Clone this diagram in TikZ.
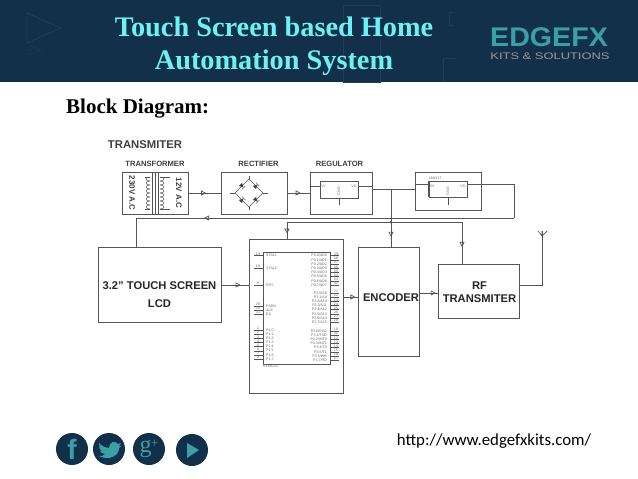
\documentclass[tikz,border=0pt]{standalone}
\usepackage{fontspec}
\setmainfont{Liberation Serif}
\setsansfont{Liberation Sans}
\newfontfamily\urlfont{Carlito}
\definecolor{mynavy}{HTML}{12304A}
\definecolor{mynavylight}{HTML}{1E3D57}
\definecolor{mycyan}{HTML}{6CF2F4}
\definecolor{myteal}{HTML}{3A9FA6}
\definecolor{mywire}{HTML}{555555}
\usetikzlibrary{positioning, arrows.meta, decorations.markings, calc}
\tikzset{
	blocknode/.style={
			draw=mywire,
			thick,
			fill=white,
			inner sep=0pt,
			align=center,
			font=\sffamily\bfseries\fontsize{11.2}{12.5}\selectfont,
			text=black!85
		},
	labelnode/.style={
			inner sep=0pt,
			font=\sffamily\bfseries\fontsize{7.6}{8}\selectfont,
			text=black!75
		},
	boxtextnode/.style={
			inner sep=0pt,
			align=center,
			font=\sffamily\bfseries\fontsize{11.2}{18}\selectfont,
			text=black!85
		},
	pinnode/.style={
			inner sep=0pt,
			text=black!60,
			font=\sffamily\fontsize{3.6}{4}\selectfont
		},
	titlenode/.style={
			inner sep=0pt,
			text=mycyan,
			font=\rmfamily\bfseries\fontsize{28.3}{33}\selectfont,
			align=center
		},
	socialnode/.style={
			circle,
			fill=mynavy,
			minimum size=32pt,
			inner sep=0pt,
			text=myteal
		},
	wire/.style={
			draw=mywire,
			thick
		},
	thinwire/.style={
			draw=mywire,
			line width=0.5pt
		},
	flowmark/.style={
			postaction={decorate},
			decoration={
					markings,
					mark=at position #1 with {\arrow[mywire, line width=0.7pt]{Triangle[open, length=5pt, width=5pt]}}
				}
		}
}
\begin{document}
\begin{tikzpicture}[x=1pt, y=-1pt]
\useasboundingbox (0,0) rectangle (638,479);
\fill[white] (0,0) rectangle (638,479);

% banner
\fill[mynavy] (0,0) rectangle (638,82);
\draw[mynavylight, thick] (27,13) -- (27,43) -- (61,28) -- cycle;
\draw[mynavylight] (18,50) -- (105,50) (18,65) -- (105,65) (30,45) -- (30,55) (30,45) -- (40,50) -- (30,55) (41,45) -- (41,55);
\draw[mynavylight] (343,5) rectangle (380,82) (453,12) -- (449,12) -- (449,25) -- (453,25) (443,82) -- (443,58) -- (455,58);
\node[titlenode] (title) at (274,46) {Touch Screen based Home\\Automation System};
\node[inner sep=0pt, text=myteal, font=\sffamily\bfseries\fontsize{27}{28}\selectfont, xscale=1.06] (logo) at (549,37) {EDGEFX};
\node[inner sep=0pt, text=gray!80, font=\sffamily\fontsize{9.5}{10}\selectfont, xscale=1.36] (logosub) at (550,56) {KITS \& SOLUTIONS};
\node[inner sep=0pt, anchor=west, font=\rmfamily\bfseries\fontsize{21}{22}\selectfont] (heading) at (66,108.5) {Block Diagram:};

% top row
\node[labelnode, font=\sffamily\bfseries\fontsize{11.3}{12}\selectfont] (txlabel) at (145,145) {TRANSMITER};
\node[blocknode, minimum width=66pt, minimum height=42pt] (tf) at (155,193) {};
\node[blocknode, minimum width=66pt, minimum height=42pt] (rect) at (254,193) {};
\node[blocknode, minimum width=62pt, minimum height=42pt] (reg) at (341,193) {};
\node[blocknode, minimum width=66pt, minimum height=38pt] (lm) at (448,191) {};
\node[labelnode] (tflabel) at (155,164) {TRANSFORMER};
\node[labelnode] (rectlabel) at (258.5,164) {RECTIFIER};
\node[labelnode] (reglabel) at (339.5,164) {REGULATOR};

% transformer
\node[labelnode, font=\sffamily\bfseries\fontsize{8}{9}\selectfont, rotate=-90] (tfin) at (132,193) {230V A.C};
\node[labelnode, font=\sffamily\bfseries\fontsize{8}{9}\selectfont, rotate=-90] (tfout) at (179,193) {12V A.C};
\draw[thinwire, line width=0.8pt] (152,172) -- (152,214) (155,172) -- (155,214) (158,172) -- (158,214);
\foreach \i in {0,...,7} {
	\draw[thinwire] (150,177+\i*4) arc[start angle=90, end angle=270, x radius=4pt, y radius=2pt];
	\draw[thinwire] (160,177+\i*4) arc[start angle=90, end angle=-90, x radius=4pt, y radius=2pt];
}
\draw[thinwire] (150,177) -- (145,177) (150,209) -- (145,209) (160,177) -- (170,177) (160,209) -- (170,209);

% bridge
\coordinate (bt) at (249,179);
\coordinate (br) at (263,193);
\coordinate (bb) at (249,207);
\coordinate (bl) at (235,193);
\draw[thinwire] (bt) -- (br) -- (bb) -- (bl) -- cycle;
\draw[thinwire] (bt) -- ++(0,-3) (bb) -- ++(0,3) (bl) -- ++(-5,0) (br) -- ++(5,0);
\foreach \a/\b/\r in {bl/bt/-45, bt/br/45, bb/br/-45, bl/bb/45} {
	\path ($(\a)!0.5!(\b)$) coordinate (d);
	\fill[black!75, rotate around={\r:(d)}] ($(d)+(-2.2,-2.2)$) -- ($(d)+(-2.2,2.2)$) -- ($(d)+(2.2,0)$) -- cycle;
	\draw[black!75, rotate around={\r:(d)}] ($(d)+(2.4,-2.5)$) -- ($(d)+(2.4,2.5)$);
}

% regulators
\node[blocknode, line width=0.5pt, minimum width=38pt, minimum height=17pt] (regchip) at (339,189.5) {};
\node[pinnode, right=1.5pt of regchip.west, yshift=3pt] (regvi) {VI};
\node[pinnode, left=1.5pt of regchip.east, yshift=3pt] (regvo) {VO};
\node[pinnode, rotate=90] (reggnd) at (339,191) {GND};
\coordinate (regpa) at (310,186);
\coordinate (regpb) at (372,186);
\coordinate (regpc) at (339,205);
\draw[thinwire] (regpa) -- (regpa -| regchip.west) (regpb) -- (regpb -| regchip.east) (regpc) -- (regchip.south -| regpc);
\node[blocknode, line width=0.5pt, minimum width=38pt, minimum height=16pt] (lmchip) at (448,189) {};
\node[pinnode, above=0.8pt of lmchip.north west, anchor=south west] (lmname) {LM1117};
\node[pinnode, right=1.5pt of lmchip.west, yshift=3pt] (lmvi) {IN};
\node[pinnode, left=1.5pt of lmchip.east, yshift=3pt] (lmvo) {VO};
\node[pinnode, rotate=90] (lmgnd) at (448,191) {GND};
\coordinate (lmpa) at (415,184);
\coordinate (lmpb) at (481,184);
\coordinate (lmpc) at (448,205);
\draw[thinwire] (lmpa) -- (lmpa -| lmchip.west) (lmpb) -- (lmpb -| lmchip.east) (lmpc) -- (lmchip.south -| lmpc);
\draw[mywire, thick] (lmchip.north west) -- (lmchip.south west);

% lower row
\node[blocknode, minimum width=123pt, minimum height=75pt] (lcd) at (159.5,284.5) {};
\node[boxtextnode] (lcdtext) at (159.5,295) {3.2" TOUCH SCREEN\\LCD};
\node[blocknode, line width=0.6pt, minimum width=94pt, minimum height=154pt] (mcu) at (296,316) {};
\node[blocknode, minimum width=61pt, minimum height=109pt] (enc) at (388.5,301.5) {};
\node[boxtextnode] (enctext) at (391,298) {ENCODER};
\node[blocknode, minimum width=81pt, minimum height=54pt] (rf) at (478.5,291) {};
\node[boxtextnode, font=\sffamily\bfseries\fontsize{11.2}{12.5}\selectfont] (rftext) at (479.5,292) {RF\\TRANSMITER};

% microcontroller
\node[blocknode, line width=0.5pt, minimum width=67pt, minimum height=112pt] (chip) at (296.5,308) {};
\node[pinnode, anchor=north west] (chipname) at (263,364.5) {AT89C51};
\foreach \name/\pin/\y [count=\i] in {XTAL1/19/255.5, XTAL2/18/268, RST/9/285, PSEN/29/306, ALE/30/310, EA/31/314} {
	\node[pinnode, anchor=west] (la\i) at (266,\y) {\name};
	\node[pinnode, anchor=south] (lb\i) at (258,\y) {\pin};
	\draw[thinwire] (la\i.west -| chip.west) -- ++(-9,0);
}
\foreach \j [evaluate=\j as \y using 330+\j*4.15, evaluate=\j as \p using int(\j+1)] in {0,...,7} {
	\node[pinnode, anchor=west] (lc\j) at (266,\y) {P1.\j};
	\node[pinnode, anchor=south] (ld\j) at (258,\y) {\p};
	\draw[thinwire] (lc\j.west -| chip.west) -- ++(-9,0);
}
\foreach \j/\txt [evaluate=\j as \y using 255.7+\j*4.2, evaluate=\j as \p using int(39-\j)] in {0/AD0,1/AD1,2/AD2,3/AD3,4/AD4,5/AD5,6/AD6,7/AD7} {
	\node[pinnode, anchor=east] (ra\j) at (327,\y) {P0.\j/\txt};
	\node[pinnode, anchor=south] (rb\j) at (336,\y) {\p};
	\draw[thinwire] (ra\j.east -| chip.east) -- ++(9,0);
}
\foreach \j/\txt [evaluate=\j as \y using 293+\j*4.15, evaluate=\j as \p using int(21+\j)] in {0/A8,1/A9,2/A10,3/A11,4/A12,5/A13,6/A14,7/A15} {
	\node[pinnode, anchor=east] (rc\j) at (327,\y) {P2.\j/\txt};
	\node[pinnode, anchor=south] (rd\j) at (336,\y) {\p};
	\draw[thinwire] (rc\j.east -| chip.east) -- ++(9,0);
}
\foreach \j/\txt [evaluate=\j as \y using 331+\j*4.15, evaluate=\j as \p using int(10+\j)] in {0/RXD,1/TXD,2/INT0,3/INT1,4/T0,5/T1,6/WR,7/RD} {
	\node[pinnode, anchor=east] (re\j) at (327,\y) {P3.\j/\txt};
	\node[pinnode, anchor=south] (rf\j) at (336,\y) {\p};
	\draw[thinwire] (re\j.east -| chip.east) -- ++(9,0);
}

% connectors
\draw[wire, flowmark=0.55] (tf) -- (rect);
\draw[wire, flowmark=0.6] (rect) -- (reg);
\coordinate (regout) at (372,189);
\coordinate (lmin) at (415,189);
\coordinate (tap) at (391,189);
\coordinate (lmout) at (481,184);
\coordinate (fbr) at (514,184);
\coordinate (fbb) at (514,218);
\coordinate (fbl) at (136,218);
\coordinate (bus) at (391,222);
\coordinate (busl) at (287,222);
\coordinate (busr) at (462,222);
\draw[wire] (regout) -- (lmin);
\draw[wire] (lmout) -- (fbr) -- (fbb);
\draw[wire, flowmark=0.82] (fbb) -- (fbl);
\draw[wire] (fbl) -- (fbl |- lcd.north);
\draw[wire] (tap) -- (bus);
\draw[wire, flowmark=0.6] (bus) -- (bus |- enc.north);
\draw[wire] (busl) -- (busr);
\draw[wire, flowmark=0.7] (busl) -- (busl |- mcu.north);
\draw[wire, flowmark=0.6] (busr) -- (busr |- rf.north);
\fill[mywire] (bus) circle (1.3pt);
\draw[wire, flowmark=0.7] (lcd.east |- 0,285) -- (mcu.west |- 0,285);
\draw[wire, flowmark=0.85] (mcu.east |- 0,297) -- (enc.west |- 0,297);
\draw[wire, flowmark=0.9] (enc.east |- 0,293) -- (rf.west |- 0,293);

% antenna
\coordinate (anta) at (542,285);
\coordinate (antb) at (542,231);
\draw[wire] (rf.east |- anta) -- (anta) -- (antb);
\draw[thinwire, line width=0.7pt] (538,231) -- (antb |- 0,236) -- (547,231) (antb) -- (antb |- 0,236);

% footer
\node[socialnode, font=\sffamily\bfseries\fontsize{28}{29}\selectfont] (fb) at (72,449) {f};
\node[socialnode] (tw) at (109,449) {};
\fill[myteal] (99,443) .. controls (103,447) and (106,448) .. (109,448) .. controls (109,442) and (115,440) .. (118,444) -- (121,443) -- (119,446) -- (121,446) -- (119,448) .. controls (119,456) and (109,461) .. (99,456) .. controls (102,456) and (104,456) .. (105,454) .. controls (102,454) and (101,452) .. (100,451) -- (102,451) .. controls (100,450) and (99,448) .. (99,446) -- (101,447) .. controls (99,446) and (99,444) .. (99,443) -- cycle;
\node[socialnode, font=\rmfamily\fontsize{24}{25}\selectfont] (gp) at (149,449) {\raisebox{2pt}{g\kern-0.5pt\fontsize{13}{14}\selectfont\raisebox{5pt}{+}}};
\node[socialnode] (yt) at (192,450) {};
\fill[myteal] (187,443) -- (199,450) -- (187,458) -- cycle;
\node[inner sep=0pt, font=\urlfont\fontsize{16.8}{19}\selectfont] (weburl) at (494,441) {http://www.edgefxkits.com/};
\end{tikzpicture}
\end{document}
